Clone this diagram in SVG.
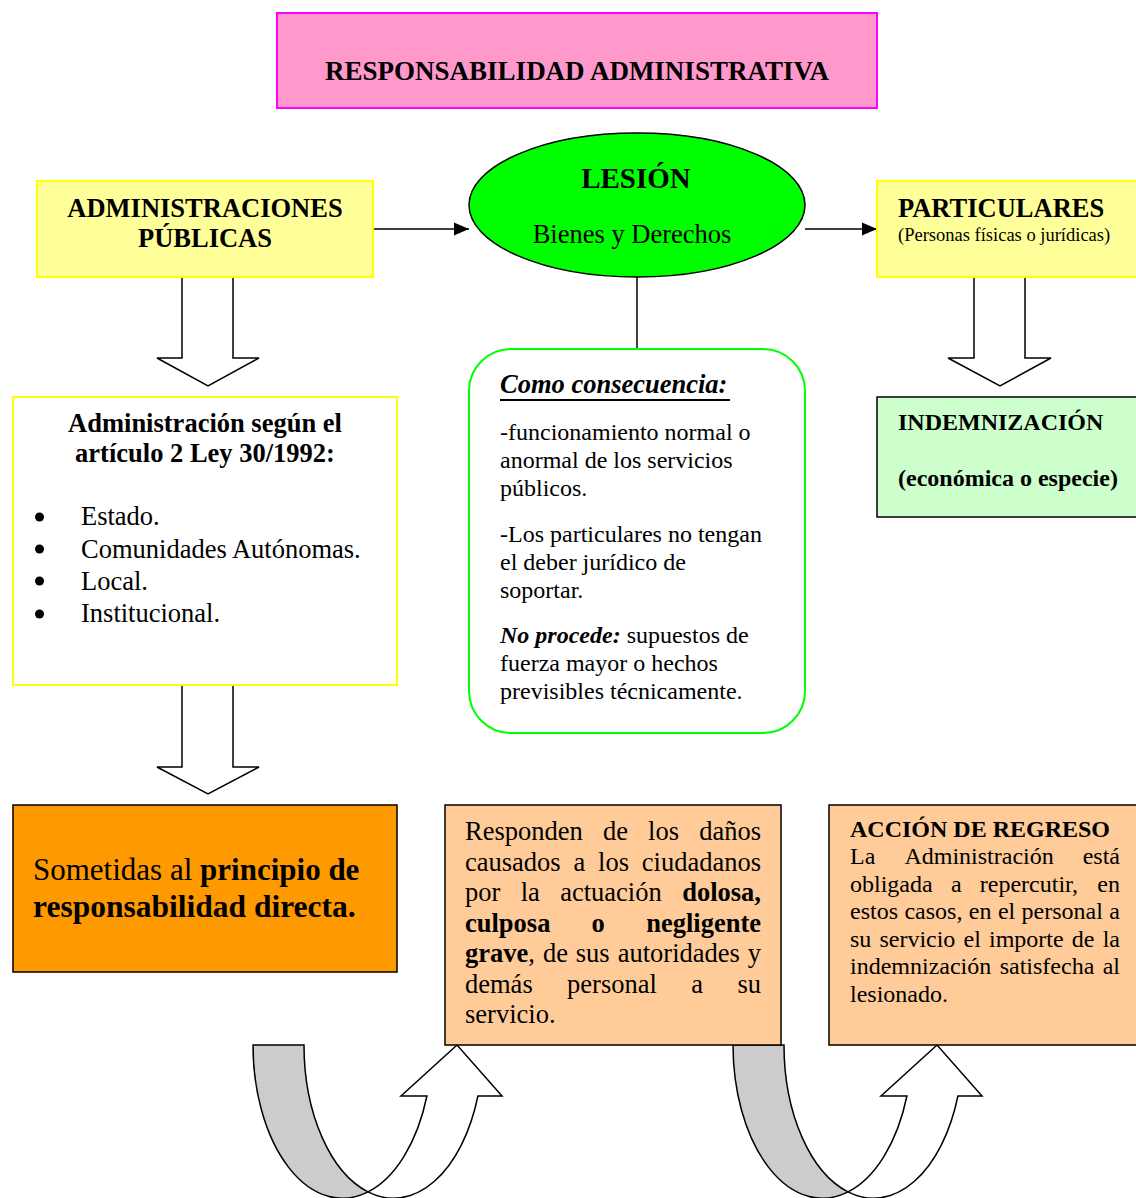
<svg xmlns="http://www.w3.org/2000/svg" width="1136" height="1198" viewBox="0 0 1136 1198">
<style>
text{font-family:"Liberation Serif","Times New Roman",serif;fill:#000}
.b{font-weight:bold}
.bi{font-weight:bold;font-style:italic}
.f26{font-size:26.5px}
.f24{font-size:24px}
.yel{fill:#FFFF99;stroke:#FFFF00;stroke-width:2}
.bar{fill:#fff;stroke:#000;stroke-width:1.5;stroke-linejoin:miter}
.line{stroke:#000;stroke-width:1.5;fill:none}
</style>
<defs>
<marker id="ah" markerWidth="16" markerHeight="14" refX="15" refY="7" orient="auto" markerUnits="userSpaceOnUse">
<path d="M0,0.5 L15,7 L0,13.5 Z" fill="#000"/>
</marker>
<g id="curved">
<path d="M368,1191.9 A89.5,153.3 0 0 0 426.9,1096 L401,1096 L457,1045 L502,1096 L477.9,1096 A89.5,153.3 0 0 1 368,1191.9 Z" fill="#fff" stroke="#000" stroke-width="1.5" stroke-linejoin="miter"/>
<path d="M253,1045 L304,1045 A89.5,153.3 0 0 0 368,1191.9 A89.5,153.3 0 0 1 253,1045 Z" fill="#CCCCCC" stroke="#000" stroke-width="1.5"/>
</g>
</defs>
<rect width="1136" height="1198" fill="#fff"/>

<g id="connectors">
<line class="line" x1="373" y1="229" x2="469" y2="229" marker-end="url(#ah)"/>
<line class="line" x1="805" y1="229" x2="877" y2="229" marker-end="url(#ah)"/>
<line class="line" x1="637" y1="277" x2="637" y2="349"/>
<path class="bar" d="M182,277 L233,277 L233,358 L259,358 L208,386 L157,358 L182,358 Z"/>
<path class="bar" d="M974,277 L1025,277 L1025,358 L1051,358 L1000,386 L948,358 L974,358 Z"/>
<path class="bar" d="M182,685 L233,685 L233,767 L259,767 L208,794 L157,767 L182,767 Z"/>
<use href="#curved"/>
<use href="#curved" transform="translate(480,0)"/>
</g>

<g id="title">
<rect x="277" y="13" width="600" height="95" fill="#FF99CC" stroke="#FF00FF" stroke-width="2"/>
<text class="b" font-size="27" x="577" y="80" text-anchor="middle">RESPONSABILIDAD ADMINISTRATIVA</text>
</g>

<g id="administraciones">
<rect class="yel" x="37" y="181" width="336" height="96"/>
<text class="b f26" x="205" y="217" text-anchor="middle">ADMINISTRACIONES</text>
<text class="b f26" x="205" y="247" text-anchor="middle">PÚBLICAS</text>
</g>

<g id="lesion">
<ellipse cx="637" cy="205" rx="168" ry="72" fill="#00FF00" stroke="#000" stroke-width="1.5"/>
<text class="b" font-size="29" x="636" y="188" text-anchor="middle">LESIÓN</text>
<text class="f26" x="632" y="243" text-anchor="middle">Bienes y Derechos</text>
</g>

<g id="particulares">
<rect class="yel" x="877" y="181" width="270" height="96"/>
<text class="b f26" x="898" y="217">PARTICULARES</text>
<text font-size="18.5" x="898" y="241">(Personas físicas o jurídicas)</text>
</g>

<g id="administracion-ley">
<rect x="13" y="397" width="384" height="288" fill="#fff" stroke="#FFFF00" stroke-width="2"/>
<text class="b f26" x="205" y="432" text-anchor="middle">Administración según el</text>
<text class="b f26" x="205" y="462" text-anchor="middle">artículo 2 Ley 30/1992:</text>
<circle cx="39.5" cy="517" r="4.5"/>
<circle cx="39.5" cy="549" r="4.5"/>
<circle cx="39.5" cy="581" r="4.5"/>
<circle cx="39.5" cy="614" r="4.5"/>
<text class="f26" x="81" y="525">Estado.</text>
<text class="f26" x="81" y="558">Comunidades Autónomas.</text>
<text class="f26" x="81" y="590">Local.</text>
<text class="f26" x="81" y="622">Institucional.</text>
</g>

<g id="consecuencia">
<rect x="469" y="349" width="336" height="384" rx="42" ry="42" fill="#fff" stroke="#00FF00" stroke-width="2"/>
<text class="bi f26" x="500" y="393">Como consecuencia:</text>
<line x1="500" y1="400" x2="730" y2="400" stroke="#000" stroke-width="2"/>
<text class="f24" x="500" y="440">-funcionamiento normal o</text>
<text class="f24" x="500" y="468">anormal de los servicios</text>
<text class="f24" x="500" y="496">públicos.</text>
<text class="f24" x="500" y="542">-Los particulares no tengan</text>
<text class="f24" x="500" y="570">el deber jurídico de</text>
<text class="f24" x="500" y="598">soportar.</text>
<text class="f24" x="500" y="643"><tspan class="bi">No procede:</tspan> supuestos de</text>
<text class="f24" x="500" y="671">fuerza mayor o hechos</text>
<text class="f24" x="500" y="699">previsibles técnicamente.</text>
</g>

<g id="indemnizacion">
<rect x="877" y="397" width="270" height="120" fill="#CCFFCC" stroke="#000" stroke-width="1.5"/>
<text class="b f24" x="898" y="430">INDEMNIZACIÓN</text>
<text class="b f24" x="898" y="486">(económica o especie)</text>
</g>

<g id="responsabilidad-directa">
<rect x="13" y="805" width="384" height="167" fill="#FF9900" stroke="#000" stroke-width="1.5"/>
<text font-size="31" x="33" y="880">Sometidas al <tspan class="b">principio de</tspan></text>
<text class="b" font-size="31.5" x="33" y="917">responsabilidad directa.</text>
</g>

<g id="responden">
<rect x="445" y="805" width="336" height="240" fill="#FFCC99" stroke="#000" stroke-width="1.5"/>
<g class="f26">
<text x="465" y="840">Responden</text><text x="603" y="840">de</text><text x="648.1" y="840">los</text><text x="761" y="840" text-anchor="end">daños</text>
<text x="465" y="870.5">causados</text><text x="573.5" y="870.5">a</text><text x="598.1" y="870.5">los</text><text x="761" y="870.5" text-anchor="end">ciudadanos</text>
<text x="465" y="901">por</text><text x="520.7" y="901">la</text><text x="560.2" y="901">actuación</text><text class="b" x="761" y="901" text-anchor="end">dolosa,</text>
<text class="b" x="465" y="931.5">culposa</text><text class="b" x="591.6" y="931.5">o</text><text class="b" x="761" y="931.5" text-anchor="end">negligente</text>
<text x="465" y="962"><tspan class="b">grave</tspan>,</text><text x="542.9" y="962">de</text><text x="575.8" y="962">sus</text><text x="617.7" y="962">autoridades</text><text x="761" y="962" text-anchor="end">y</text>
<text x="465" y="992.5">demás</text><text x="567.1" y="992.5">personal</text><text x="691.3" y="992.5">a</text><text x="761" y="992.5" text-anchor="end">su</text>
<text x="465" y="1023">servicio.</text>
</g>
</g>

<g id="accion-regreso">
<rect x="829" y="805" width="320" height="240" fill="#FFCC99" stroke="#000" stroke-width="1.5"/>
<g class="f24">
<text class="b" x="850" y="837">ACCIÓN DE REGRESO</text>
<text x="850" y="864">La</text><text x="904.4" y="864">Administración</text><text x="1120" y="864" text-anchor="end">está</text>
<text x="850" y="891.5">obligada</text><text x="950.9" y="891.5">a</text><text x="979.8" y="891.5">repercutir,</text><text x="1120" y="891.5" text-anchor="end">en</text>
<text x="850" y="919">estos</text><text x="904.4" y="919">casos,</text><text x="968.8" y="919">en</text><text x="997.9" y="919">el</text><text x="1021.6" y="919">personal</text><text x="1120" y="919" text-anchor="end">a</text>
<text x="850" y="946.5">su</text><text x="879.4" y="946.5">servicio</text><text x="963.6" y="946.5">el</text><text x="989" y="946.5">importe</text><text x="1071.8" y="946.5">de</text><text x="1120" y="946.5" text-anchor="end">la</text>
<text x="850" y="974">indemnización</text><text x="999.7" y="974">satisfecha</text><text x="1120" y="974" text-anchor="end">al</text>
<text x="850" y="1002">lesionado.</text>
</g>
</g>
</svg>
